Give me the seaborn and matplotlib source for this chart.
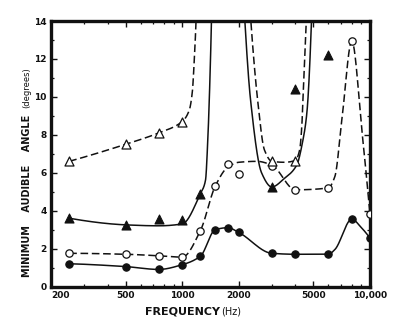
import numpy as np
import pandas as pd
import matplotlib
matplotlib.use("Agg")
import matplotlib.pyplot as plt
import seaborn as sns
from matplotlib.ticker import FixedLocator, FixedFormatter, NullFormatter

# ---------------- data ----------------
# measured points
freq_fc = [250, 500, 750, 1000, 1250, 1500, 1750, 2000, 3000, 4000, 6000, 8000, 10000]
mma_fc = [1.2, 1.05, 0.9, 1.15, 1.6, 3.0, 3.1, 2.85, 1.75, 1.7, 1.7, 3.55, 2.55]

freq_oc = [250, 500, 750, 1000, 1250, 1500, 1750, 2000, 3000, 4000, 6000, 8000, 10000]
mma_oc = [1.75, 1.7, 1.62, 1.55, 2.95, 5.3, 6.45, 5.95, 6.35, 5.1, 5.2, 12.95, 3.8]

freq_ft = [250, 500, 750, 1000, 1250, 3000, 4000, 6000]
mma_ft = [3.6, 3.25, 3.55, 3.5, 4.9, 5.25, 10.4, 12.2]

freq_ot = [250, 500, 750, 1000, 3000, 4000]
mma_ot = [6.6, 7.5, 8.1, 8.7, 6.6, 6.6]

# hand-drawn curves (knots)
fc_curve_f = [250, 500, 750, 1000, 1250, 1500, 1750, 2000, 3000, 4000, 6000, 6500, 8000, 9000, 10000]
fc_curve_y = [1.2, 1.05, 0.9, 1.15, 1.6, 3.0, 3.1, 2.85, 1.75, 1.7, 1.7, 1.95, 3.55, 3.1, 2.55]

oc_curve_f = [250, 500, 750, 1000, 1250, 1500, 1750, 2000, 2500, 3000, 4000, 6000, 6500, 7100, 8000, 9100, 10000]
oc_curve_y = [1.75, 1.7, 1.62, 1.55, 2.95, 5.3, 6.3, 6.55, 6.6, 6.4, 5.1, 5.2, 5.8, 8.9, 12.95, 8.0, 3.8]

ft_curve_a_f = [250, 500, 750, 1000, 1250, 1330, 1365, 1400, 1435]
ft_curve_a_y = [3.6, 3.25, 3.2, 3.3, 4.9, 5.6, 7.5, 10.5, 14.5]
ft_curve_b_f = [2140, 2311, 2644, 3000, 3500, 4070, 4390, 4610, 4900]
ft_curve_b_y = [14.5, 9.84, 6.0, 5.25, 5.7, 6.4, 7.7, 9.15, 14.5]

ot_curve_a_f = [250, 500, 750, 1000, 1090, 1130, 1160, 1190]
ot_curve_a_y = [6.6, 7.5, 8.1, 8.7, 9.3, 10.2, 12.0, 14.5]
ot_curve_b_f = [2300, 2520, 2740, 3000, 3500, 4000, 4220, 4330, 4400, 4600]
ot_curve_b_y = [14.5, 9.84, 7.2, 6.6, 6.55, 6.65, 7.2, 8.4, 10.0, 14.5]

x_major = [200, 500, 1000, 2000, 5000, 10000]
x_major_labels = ["200", "500", "1000", "2000", "5000", "10,000"]
x_minor = [300, 400, 600, 700, 800, 900, 3000, 4000, 6000, 7000, 8000, 9000]
y_major = [0, 2, 4, 6, 8, 10, 12, 14]


# ---------------- smoothing of drawn curves (monotone cubic, log-x) ----------------
def smooth(fs, ys, n=60):
    x = np.log10(np.asarray(fs, float))
    y = np.asarray(ys, float)
    h = np.diff(x)
    d = np.diff(y) / h
    m = np.zeros_like(y)
    for k in range(1, len(y) - 1):
        if d[k - 1] * d[k] > 0:
            w1 = 2 * h[k] + h[k - 1]
            w2 = h[k] + 2 * h[k - 1]
            m[k] = (w1 + w2) / (w1 / d[k - 1] + w2 / d[k])

    def end(h0, h1, d0, d1):
        s = ((2 * h0 + h1) * d0 - h0 * d1) / (h0 + h1)
        if np.sign(s) != np.sign(d0):
            return 0.0
        if np.sign(d0) != np.sign(d1) and abs(s) > abs(3 * d0):
            return 3 * d0
        return s

    if len(y) > 2:
        m[0] = end(h[0], h[1], d[0], d[1])
        m[-1] = end(h[-1], h[-2], d[-1], d[-2])
    else:
        m[:] = d[0]
    xs, ysm = [], []
    for k in range(len(h)):
        t = np.linspace(0, 1, n)
        if k > 0:
            t = t[1:]
        h00 = 2 * t**3 - 3 * t**2 + 1
        h10 = t**3 - 2 * t**2 + t
        h01 = -2 * t**3 + 3 * t**2
        h11 = t**3 - t**2
        xs.append(x[k] + t * h[k])
        ysm.append(h00 * y[k] + h10 * h[k] * m[k] + h01 * y[k + 1] + h11 * h[k] * m[k + 1])
    return pd.DataFrame({"freq": 10 ** np.concatenate(xs), "mma": np.concatenate(ysm)})


# ---------------- figure ----------------
sns.set_style("ticks")
plt.rcParams["font.family"] = ["DejaVu Sans"]

fig = plt.figure(figsize=(4.05, 3.26), dpi=100)
ax = fig.add_axes([51 / 405, 1 - 286.5 / 326, (370 - 51) / 405, (286.5 - 21) / 326])

INK = "#111111"
LW = 1.1
DASH = (5.0, 2.4)

curves = [
    (fc_curve_f, fc_curve_y, False),
    (oc_curve_f, oc_curve_y, True),
    (ft_curve_a_f, ft_curve_a_y, False),
    (ft_curve_b_f, ft_curve_b_y, False),
    (ot_curve_a_f, ot_curve_a_y, True),
    (ot_curve_b_f, ot_curve_b_y, True),
]
for fs, ys, dashed in curves:
    df = smooth(fs, ys)
    sns.lineplot(data=df, x="freq", y="mma", sort=False, estimator=None,
                 color=INK, lw=LW, ax=ax, zorder=2)
    if dashed:
        ax.lines[-1].set_dashes(DASH)

sns.scatterplot(x=freq_fc, y=mma_fc, marker="o", s=28, color=INK,
                edgecolor=INK, linewidth=0.8, ax=ax, zorder=3)
sns.scatterplot(x=freq_oc, y=mma_oc, marker="o", s=28, color="white",
                edgecolor=INK, linewidth=0.9, ax=ax, zorder=3)
sns.scatterplot(x=freq_ft, y=mma_ft, marker="^", s=42, color=INK,
                edgecolor=INK, linewidth=0.8, ax=ax, zorder=3)
sns.scatterplot(x=freq_ot, y=mma_ot, marker="^", s=42, color="white",
                edgecolor=INK, linewidth=0.9, ax=ax, zorder=3)

ax.set_xscale("log")
ax.set_xlim(200, 10000)
ax.set_ylim(0, 14)

ax.xaxis.set_major_locator(FixedLocator(x_major))
ax.xaxis.set_major_formatter(FixedFormatter(x_major_labels))
ax.xaxis.set_minor_locator(FixedLocator(x_minor))
ax.xaxis.set_minor_formatter(NullFormatter())
ax.yaxis.set_major_locator(FixedLocator(y_major))
ax.yaxis.set_minor_locator(FixedLocator([1, 3, 5, 7, 9, 11, 13]))

ax.tick_params(axis="both", which="both", direction="in", top=True, right=True,
               color=INK)
ax.tick_params(axis="both", which="major", length=4, width=1.0,
               labelsize=6.5, pad=3, labelcolor=INK)
ax.tick_params(axis="both", which="minor", length=2.5, width=0.9)
for lab in ax.get_xticklabels() + ax.get_yticklabels():
    lab.set_fontweight("bold")
ax.get_xticklabels()[0].set_horizontalalignment("left")

for sp in ax.spines.values():
    sp.set_linewidth(2.4)
    sp.set_color(INK)

ax.set_xlabel("")
ax.set_ylabel("")

# axis titles
fig.text(145 / 405, 1 - 315 / 326, "FREQUENCY", fontsize=8, fontweight="bold",
         ha="left", va="baseline", color=INK)
fig.text(221 / 405, 1 - 315 / 326, "(Hz)", fontsize=7, ha="left",
         va="baseline", color=INK)
fig.text(27 / 405, 1 - 277 / 326, "MINIMUM    AUDIBLE    ANGLE", fontsize=7,
         fontweight="bold", rotation=90, ha="center", va="bottom", color=INK)
fig.text(27 / 405, 1 - 67 / 326, "(degrees)", fontsize=6, rotation=90,
         ha="center", va="top", color=INK)

fig.savefig("out.png", dpi=100)
